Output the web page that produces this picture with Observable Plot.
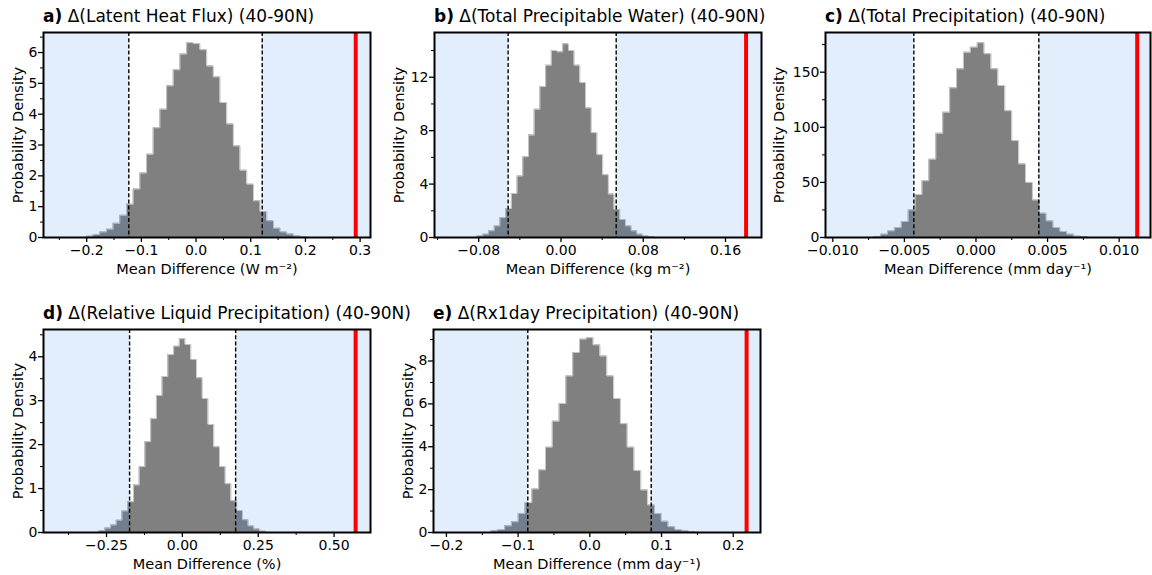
<!DOCTYPE html>
<html><head><meta charset="utf-8">
<script src="https://cdn.jsdelivr.net/npm/d3@7"></script>
<script src="https://cdn.jsdelivr.net/npm/@observablehq/plot@0.6"></script>
<style>
body{margin:0;background:#fff;font-family:"DejaVu Sans",sans-serif;}
#wrap{position:relative;width:1152px;height:575px;overflow:hidden;background:#fff;}
.ttl{position:absolute;font-size:17px;line-height:17px;white-space:nowrap;color:#000;font-family:"DejaVu Sans",sans-serif;}
.panel{position:absolute;}
</style></head><body><div id="wrap"></div>
<script>
// ---------------- data ----------------
const panelLetters = ["a)", "b)", "c)", "d)", "e)"];
const panelTitles = [
  "Δ(Latent Heat Flux) (40-90N)",
  "Δ(Total Precipitable Water) (40-90N)",
  "Δ(Total Precipitation) (40-90N)",
  "Δ(Relative Liquid Precipitation) (40-90N)",
  "Δ(Rx1day Precipitation) (40-90N)"
];
const xAxisLabels = [
  "Mean Difference (W m⁻²)",
  "Mean Difference (kg m⁻²)",
  "Mean Difference (mm day⁻¹)",
  "Mean Difference (%)",
  "Mean Difference (mm day⁻¹)"
];
const yAxisLabel = "Probability Density";

// histogram densities (uniform bins: first left edge, bin width)
const densityA = [0.04,0.10,0.18,0.27,0.46,0.72,1.08,1.57,2.09,2.70,3.56,4.16,4.92,5.44,5.95,6.32,6.29,6.09,5.56,5.21,4.38,3.68,2.97,2.18,1.73,1.19,0.84,0.54,0.30,0.18,0.11,0.05,0.02];
const binsA = [-0.2005, 0.01222];
const densityB = [0.12,0.25,0.5,0.87,1.5,2.17,3.3,4.6,6.05,7.67,9.6,11.3,12.9,14.0,13.9,14.5,14.0,12.9,11.6,9.7,7.85,6.2,4.7,3.25,2.1,1.35,0.87,0.5,0.25,0.12,0.05];
const binsB = [-0.0815, 0.00555];
const densityC = [1,3,6,9,14.5,25,39,51.5,71,94.5,113.6,135.8,153,168,172.7,176.7,166.7,153,137.9,115,87.9,66.7,50,34,22,15,9,5.5,3,1.2,0.6];
const binsC = [-0.00714, 0.000482];
const densityD = [0.04,0.1,0.17,0.28,0.49,0.7,1.08,1.5,2.07,2.59,3.12,3.55,4.05,4.24,4.41,4.28,3.94,3.52,3.05,2.46,1.95,1.5,1.11,0.72,0.5,0.29,0.15,0.08,0.03];
const binsD = [-0.2745, 0.0189];
const densityE = [0.08,0.14,0.31,0.5,0.89,1.4,2.03,2.92,3.98,5.19,6.02,7.3,8.4,9.02,9.09,8.75,8.23,7.3,6.25,5.08,3.98,2.89,1.98,1.28,0.89,0.52,0.27,0.14,0.08,0.03];
const binsE = [-0.1378, 0.0095];

// significance thresholds (dashed) and observed difference (red)
const thresholdsA = [-0.123, 0.121];
const thresholdsB = [-0.0514, 0.0537];
const thresholdsC = [-0.00434, 0.00439];
const thresholdsD = [-0.174, 0.1755];
const thresholdsE = [-0.0865, 0.0856];
const observed = [0.292, 0.180, 0.01126, 0.571, 0.2186];

// axis domains and ticks
const xDomains = [[-0.279, 0.319], [-0.123, 0.195], [-0.01051, 0.01219], [-0.4577, 0.620], [-0.218, 0.238]];
const yTops = [6.65, 15.35, 186, 4.62, 9.47];
const xMajorTicks = [
  [-0.2,-0.1,0,0.1,0.2,0.3],
  [-0.08,0,0.08,0.16],
  [-0.01,-0.005,0,0.005,0.01],
  [-0.25,0,0.25,0.5],
  [-0.2,-0.1,0,0.1,0.2]
];
const xMinorTicks = [
  [-0.25,-0.15,-0.05,0.05,0.15,0.25],
  [-0.12,-0.04,0.04,0.12],
  [-0.0075,-0.0025,0.0025,0.0075],
  [-0.375,-0.125,0.125,0.375],
  [-0.15,-0.05,0.05,0.15]
];
const xTickDecimals = [1, 2, 3, 2, 1];
const yMajorTicks = [[0,1,2,3,4,5,6],[0,4,8,12],[0,50,100,150],[0,1,2,3,4],[0,2,4,6,8]];
const yMinorTicks = [[0.5,1.5,2.5,3.5,4.5,5.5,6.5],[2,6,10,14],[25,75,125,175],[0.5,1.5,2.5,3.5,4.5],[1,3,5,7,9]];

// ---------------- layout ----------------
const frames = [
  {left: 43, top: 32, w: 327, h: 205, ylabDx: -25.5},
  {left: 434, top: 32, w: 327, h: 205, ylabDx: -35},
  {left: 825, top: 32, w: 325, h: 205, ylabDx: -46},
  {left: 43, top: 329, w: 327, h: 203, ylabDx: -25.5},
  {left: 433, top: 329, w: 327, h: 203, ylabDx: -25.5}
];
const densities = [densityA, densityB, densityC, densityD, densityE];
const bins = [binsA, binsB, binsC, binsD, binsE];
const thresholds = [thresholdsA, thresholdsB, thresholdsC, thresholdsD, thresholdsE];

const fmtSigned = (dec) => (v) => (v < 0 ? "\u2212" : "") + Math.abs(v).toFixed(dec);

const wrap = document.getElementById("wrap");
const mL = 45, mT = 4, mR = 6, mB = 46;
const FS = 14;

frames.forEach((f, k) => {
  const vals = densities[k];
  const [start, width] = bins[k];
  const n = vals.length;
  const areaPts = vals.map((v, i) => ({x: start + i * width, y: v}));
  areaPts.push({x: start + n * width, y: vals[n - 1]});
  const outlinePts = [{x: start, y: 0}, ...areaPts, {x: start + n * width, y: 0}];
  const dom = xDomains[k];
  const thr = thresholds[k];
  const spans = [{x1: dom[0], x2: thr[0]}, {x1: thr[1], x2: dom[1]}];

  const svg = Plot.plot({
    width: f.w + mL + mR,
    height: f.h + mT + mB,
    marginLeft: mL, marginTop: mT, marginRight: mR, marginBottom: mB,
    style: {fontFamily: "DejaVu Sans", fontSize: "14px", color: "black", background: "transparent", overflow: "visible"},
    x: {domain: dom},
    y: {domain: [0, yTops[k]]},
    marks: [
      Plot.areaY(areaPts, {x: "x", y: "y", curve: "step-after", fill: "#808080"}),
      Plot.line(outlinePts, {x: "x", y: "y", curve: "step-after", stroke: "#c8c8c8", strokeWidth: 1}),
      Plot.rect(spans, {x1: "x1", x2: "x2", fill: "rgb(13,113,230)", fillOpacity: 0.12}),
      Plot.ruleX(thr, {stroke: "black", strokeWidth: 1.4, strokeDasharray: "4,2.2"}),
      Plot.ruleX([observed[k]], {stroke: "red", strokeWidth: 4}),
      Plot.axisY(yMajorTicks[k], {tickSize: 5, tickFormat: () => "", label: null, strokeWidth: 1.3}),
      Plot.axisY(yMinorTicks[k], {tickSize: 3, tickFormat: () => "", label: null, strokeWidth: 1}),
      Plot.axisX(xMajorTicks[k], {tickSize: 5, tickFormat: () => "", label: null, strokeWidth: 1.3}),
      Plot.axisX(xMinorTicks[k], {tickSize: 3, tickFormat: () => "", label: null, strokeWidth: 1}),
      Plot.text(xMajorTicks[k], {x: (d) => d, frameAnchor: "bottom", lineAnchor: "top", textAnchor: "middle", dy: 8, text: fmtSigned(xTickDecimals[k]), fontSize: FS, fill: "black"}),
      Plot.text(yMajorTicks[k], {y: (d) => d, frameAnchor: "left", lineAnchor: "middle", textAnchor: "end", dx: -6, text: fmtSigned(0), fontSize: FS, fill: "black"}),
      Plot.frame({stroke: "black", strokeWidth: 2}),
      Plot.text([xAxisLabels[k]], {frameAnchor: "bottom", lineAnchor: "middle", textAnchor: "middle", dy: 32, fontSize: 14.5}),
      Plot.text([yAxisLabel], {frameAnchor: "left", lineAnchor: "middle", textAnchor: "middle", rotate: -90, dx: f.ylabDx, fontSize: 14.5})
    ]
  });
  svg.classList.add("panel");
  svg.style.left = (f.left - mL) + "px";
  svg.style.top = (f.top - mT) + "px";
  wrap.appendChild(svg);

  const t = document.createElement("div");
  t.className = "ttl";
  t.style.left = f.left + "px";
  t.style.top = (f.top - 24) + "px";
  const b = document.createElement("b");
  b.textContent = panelLetters[k];
  t.appendChild(b);
  t.appendChild(document.createTextNode(" " + panelTitles[k]));
  wrap.appendChild(t);
});
</script></body></html>
